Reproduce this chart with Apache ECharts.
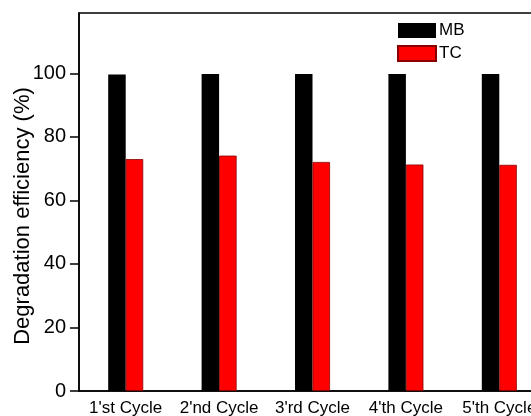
<!DOCTYPE html>
<html>
<head>
<meta charset="utf-8">
<script src="https://cdn.jsdelivr.net/npm/echarts@6/dist/echarts.min.js"></script>
<style>
  html, body { margin: 0; padding: 0; background: #fff; }
  #chart { width: 531px; height: 416px; }
</style>
</head>
<body>
<div id="chart"></div>
<script>
// cycles and degradation values
var cycles = ["1'st Cycle", "2'nd Cycle", "3'rd Cycle", "4'th Cycle", "5'th Cycle"];
var mbValues = [99.6, 99.8, 99.8, 99.8, 99.8];
var tcValues = [73.0, 74.1, 72.1, 71.3, 71.2];
var yTicks = [0, 20, 40, 60, 80, 100];

var font = 'Liberation Sans, Arial, sans-serif';
var myChart = echarts.init(document.getElementById('chart'));

options = {
    animation: false,
    backgroundColor: '#fff',
    grid: {
        left: 79,
        top: 13,
        bottom: 25,
        right: -15,
        containLabel: false,
        outerBoundsMode: 'none',
        show: true,
        borderColor: '#000',
        borderWidth: 1.5
    },
    legend: {
        orient: 'vertical',
        left: 397,
        top: 22,
        padding: 0,
        itemWidth: 38,
        itemHeight: 15,
        itemGap: 6,
        icon: 'rect',
        textStyle: {
            fontFamily: font,
            fontSize: 17,
            color: '#000',
            padding: [0, 0, 0, -2]
        },
        data: ['MB', 'TC']
    },
    xAxis: {
        type: 'category',
        data: cycles,
        axisLine: { lineStyle: { color: '#000', width: 1.5 } },
        axisTick: { show: false },
        axisLabel: {
            margin: 9,
            interval: 0,
            fontFamily: font,
            fontSize: 17,
            color: '#000'
        }
    },
    yAxis: {
        type: 'value',
        min: 0,
        max: 119,
        name: 'Degradation efficiency (%)',
        nameLocation: 'middle',
        nameGap: 45,
        nameMoveOverlap: false,
        nameTextStyle: {
            fontFamily: font,
            fontSize: 22,
            color: '#000',
            padding: [0, 28, 0, 0]
        },
        splitLine: { show: false },
        axisLine: { show: true, lineStyle: { color: '#000', width: 1.5 } },
        axisTick: {
            show: true,
            length: 9,
            customValues: yTicks,
            lineStyle: { color: '#000', width: 1.5 }
        },
        axisLabel: {
            margin: 13,
            customValues: yTicks,
            fontFamily: font,
            fontSize: 20,
            color: '#000'
        }
    },
    series: [{
        name: 'MB',
        type: 'bar',
        barWidth: 17.5,
        barGap: '0%',
        itemStyle: { color: '#000' },
        data: mbValues
    }, {
        name: 'TC',
        type: 'bar',
        barWidth: 17.5,
        barGap: '0%',
        itemStyle: { color: '#ff0000', borderColor: '#8a0000', borderWidth: 0.8 },
        data: tcValues
    }]
};
myChart.setOption(options);
</script>
</body>
</html>
